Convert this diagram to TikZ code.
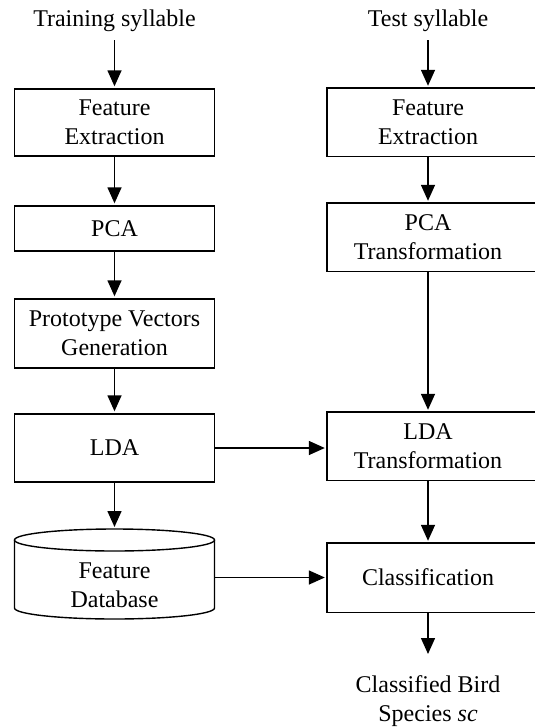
\documentclass[tikz,border=0pt]{standalone}
\usepackage{fontspec}
\setmainfont{Liberation Serif}
\usetikzlibrary{arrows.meta}

\begin{document}
\begin{tikzpicture}[x=1pt,y=-1pt,
  every node/.style={font=\fontsize{24}{29}\selectfont, align=center},
  lbox/.style={draw, line width=1.4pt, minimum width=200pt, inner sep=2pt},
  rbox/.style={minimum width=202pt, inner sep=2pt},
  boxline/.style={line width=1.4pt},
  arr/.style={line width=1.5pt, -{Triangle[length=16pt,width=14pt]}, shorten >=2pt},
]
\useasboundingbox (0,0) rectangle (535,728);
\clip (0,0) rectangle (535,728);

% training branch
\node[anchor=base] (train) at (114.5,26) {Training syllable};
\coordinate (t0) at (114.5,40);
\node[lbox, minimum height=67pt] (fe1) at (114.5,122.5) {Feature\\Extraction};
\node[lbox, minimum height=45pt] (pca1) at (114.5,228.5) {PCA};
\node[lbox, minimum height=69pt] (proto) at (114.5,333.5) {Prototype Vectors\\Generation};
\node[lbox, minimum height=68pt] (lda) at (114.5,448) {LDA};
\coordinate (dbtop) at (114.5,529);
\node[minimum width=200pt, minimum height=60pt, inner sep=0pt] (db) at (114.5,585) {Feature\\Database};

% feature database cylinder
\draw[boxline] (114.5,540) ellipse [x radius=100pt, y radius=11pt];
\draw[boxline] (14.5,540) -- (14.5,608)
  arc[start angle=180, end angle=360, x radius=100pt, y radius=11pt] -- (214.5,540);

% test branch
\node[anchor=base] (test) at (428,26) {Test syllable};
\coordinate (s0) at (428,40);
\node[rbox, minimum height=68pt] (fe2) at (428,122) {Feature\\Extraction};
\node[rbox, minimum height=68pt] (pca2) at (428,237) {PCA\\Transformation};
\node[rbox, minimum height=68pt] (ldat) at (428,446) {LDA\\Transformation};
\node[rbox, minimum height=69pt] (cls) at (428,577.5) {Classification};
\node[anchor=north, inner sep=0pt] (out) at (428,675) {Classified Bird\\Species \textit{sc}};

% right-hand boxes run past the right margin
\foreach \n in {fe2,pca2,ldat,cls}
  \draw[boxline] (\n.north west) rectangle ([xshift=30pt]\n.south east);

% connectors
\draw[arr] (t0) -- (fe1.north);
\draw[arr] (fe1) -- (pca1);
\draw[arr] (pca1) -- (proto);
\draw[arr] (proto) -- (lda);
\draw[arr] (lda) -- (dbtop);
\draw[arr] (s0) -- (fe2.north);
\draw[arr] (fe2) -- (pca2);
\draw[arr] (pca2) -- (ldat);
\draw[arr] (ldat) -- (cls);
\draw[arr] (lda.east) -- (lda.east -| ldat.west);
\draw[arr] (db.east |- cls.west) -- (cls.west);
\draw[arr] (cls.south) -- ([yshift=19pt]out.north);
\end{tikzpicture}
\end{document}
